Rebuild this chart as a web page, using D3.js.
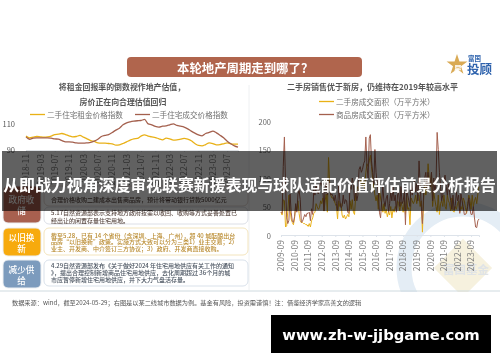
<!DOCTYPE html>
<html><head><meta charset="utf-8">
<script src="https://cdn.jsdelivr.net/npm/d3@7"></script>
<style>html,body{margin:0;padding:0;background:#fff}svg{display:block}text{font-family:"Noto Sans CJK SC","Noto Sans",sans-serif}</style>
</head><body><svg id="c" width="500" height="362"></svg>
<script>
const headline = "从即战力视角深度审视联赛新援表现与球队适配价值评估前景分析报告";
const pageTitle = "本轮地产周期走到哪了？";
const leftSubtitle = ["将租金回报率的倒数视作地产估值，","房价正在向合理估值回归"];
const rightSubtitle = "二手房销售优于新房，仍维持在2019年较高水平";
const leftSeriesNames = ["二手住宅租金价格指数","二手住宅成交价格指数"];
const rightSeriesNames = ["二手房成交面积（万平方米）","商品房成交面积（万平方米）"];
const leftYTicks = [90,110];
const rightYTicks = [0,50,100,150,200];
const rentIndex = [100.3,99,99.5,100,99.7,99.5,99.7,100.3,101.5,101.8,102.3,101.5,100.5,99.7,100,100.8,99.5,98.2,96.9,96.2,95.1,94.9,94.9,94.6,94.4,93.3,93.6,94.6,95.9,97.2,98.2,98.5,100.3,101.3,100.3,99.7,99.2,98.2,97.4,98.7,98.2,97.2,97.4,97.9,98.5,97.9,96.7,94.6,93.1,92.8,93.8,95.1,94.6,93.6,93.8,94.4,95.1,94.4,94.1,94.1];
const priceIndex = [99.7,97.9,98.7,99,99,99,99,98.7,98.2,97.9,96.9,95.9,95.9,95.6,95.1,94.9,94.9,95.1,95.4,96.4,97.9,100,100.8,101.5,103.1,104.9,106.4,109,110.5,111.3,111.8,112.1,112.3,113.1,109.7,109,107.7,107.2,107.9,108.2,109,109.7,108.5,107.9,107.2,105.9,104.1,102.6,101.3,100.5,102.3,103.1,104.1,102.8,101,99,96.4,94.4,92.8,91.8];
const secondHandArea = [40,35,62,60,14,16,42,70,45,28,22,18,
30,50,45,60,38,25,22,22,20,20,18,18,
15,20,14,25,30,38,40,55,50,45,48,60,
55,65,42,60,72,40,136,90,70,65,65,60,
55,50,28,60,50,55,35,30,35,28,32,36,
32,60,45,62,40,36,70,80,85,75,90,100,
85,95,80,110,125,120,130,140,120,100,85,70,
60,70,45,80,65,55,40,55,38,45,32,40,
35,50,30,45,40,50,45,60,55,42,58,50,
40,60,36,70,45,48,18,65,60,55,60,70,
55,70,70,50,60,5,60,90,70,85,125,100,
85,110,50,75,62,50,40,70,36,55,60,50,
70,50,45,70,60,55,42,65,42,40,50,45,
55,60,40,50,45,65,60,48,38,55,70,62,
45,70,50,60,66,55,72,85];
const newHomeArea = [40,38,120,172,90,30,20,26,72,40,24,22,
32,55,40,72,78,62,22,24,30,36,32,38,
38,40,25,46,36,80,70,88,75,72,85,92,
90,80,42,82,92,70,100,85,70,72,68,60,
70,55,42,90,60,48,50,70,55,62,60,40,
38,85,80,100,90,60,80,60,70,115,120,110,
115,125,130,172,120,100,170,176,130,110,90,150,
110,90,75,40,30,60,85,60,50,65,70,40,
55,75,60,85,60,70,40,70,75,50,85,55,
60,75,18,80,70,60,50,90,70,85,95,75,
90,60,130,90,50,20,70,100,110,80,110,90,
85,110,60,100,75,90,180,150,110,85,60,70,
95,105,85,70,90,75,60,45,70,44,52,75,
60,70,38,72,60,50,36,36,40,50,65,45,
36,36,50,30,14,13,25,28];
const policyLabels = [["政府收","储"],["以旧换","新"],["减少供","给"]];
const policyTop = ["合理价格收购二建成本出售商品房，预计将带动银行贷款5000亿元"];
const policyRecycle = ["5.17自然资源部表示支持地方政府按需以收回、收购等方式妥善处置已","经出让的闲置存量住宅用地。"];
const policyTradeIn = ["截至5.28，已有 14 个省份（含深圳、上海、广州），超 40 城酝酿出台","品房“以旧换新”政策。实施方式大致可以分为三类1）业主交易；2）","业主、开发商、中介签订三方协议；3）政府、开发商直接收购。"];
const policySupply = ["4.29自然资源部发布《关于做好2024 年住宅用地供应有关工作的通知","》，提出合理控制新增商品住宅用地供应，去化周期超过 36个月的城","市应暂停新增住宅用地供应，并下大力气盘活存量。"];
const sourceNote = "数据来源：wind，截至2024-05-29；右图是以某二线城市数据为例。基金有风险，投资需谨慎！注：借鉴经济学家高善文的逻辑";
const siteUrl = "www.zh-w-jjbgame.com";

const GOLD="#e9b118", BROWN="#a4604e", fmt=d3.timeFormat("%Y-%m");
const svg=d3.select("#c");
const defs=svg.append("defs");
defs.append("filter").attr("id","soft").attr("x","-5%").attr("y","-5%").attr("width","110%").attr("height","110%")
  .append("feGaussianBlur").attr("stdDeviation",0.38);
defs.append("clipPath").attr("id","wm").append("rect").attr("x",0).attr("y",0).attr("width",500).attr("height",292);
const page=svg.append("g").attr("filter","url(#soft)");
function txt(g,x,y,s,size,fill,weight,anchor){return g.append("text").attr("x",x).attr("y",y).attr("font-size",size).attr("fill",fill).attr("font-weight",weight||400).attr("text-anchor",anchor||"start").attr("dominant-baseline","central").text(s);}

// watermark
const wm=page.append("g").attr("clip-path","url(#wm)");
wm.append("circle").attr("cx",463).attr("cy",268).attr("r",59).attr("fill","none").attr("stroke","#e4edf5").attr("stroke-width",15);
wm.append("path").attr("d",d3.symbol(d3.symbolSquare,1700)()).attr("transform","translate(463,268) rotate(45)").attr("fill","#f6f1de");
txt(wm,443,269,"富国基金",11.5,"#dfe3e6",700);

// title
page.append("rect").attr("x",127).attr("y",57).attr("width",235).attr("height",20).attr("rx",4).attr("fill","#b0654e");
txt(page,177,67.5,pageTitle,12.4,"#fff",700);
// logo
page.append("path").attr("d",d3.symbol(d3.symbolStar,135)()).attr("transform","translate(457,65)").attr("fill","#d9aa55");
txt(page,458,68,"星",8,"#fff",700,"middle");
txt(page,468,57.5,"富国",6.5,"#2d62ad",700);
txt(page,467,68.5,"投顾",12.5,"#2d62ad",700);

page.append("line").attr("x1",249).attr("x2",249).attr("y1",85).attr("y2",290).attr("stroke","#eef0f2");

// subtitles and legends
leftSubtitle.forEach((s,i)=>txt(page,i?123:122,i?101:86.5,s,7.9,"#555",700,"middle"));
txt(page,372.5,86,rightSubtitle,8,"#555",700,"middle");
function legend(x0,y,color,label,tx){page.append("line").attr("x1",x0).attr("x2",x0+15).attr("y1",y).attr("y2",y).attr("stroke",color).attr("stroke-width",1.3);txt(page,tx,y,label,7.6,"#707070");}
legend(30,114.5,GOLD,leftSeriesNames[0],47);
legend(135,114.5,BROWN,leftSeriesNames[1],152);
legend(319,101.5,GOLD,rightSeriesNames[0],336);
legend(319,114.5,BROWN,rightSeriesNames[1],336);

// left chart
const lMonths=d3.timeMonth.range(new Date(2018,10,1),new Date(2023,10,1)).map(fmt);
const lx=d3.scalePoint().domain(lMonths).range([26,238]);
const ly=d3.scaleLinear().domain([90,110]).range([149.5,123.5]);
const lg=page.append("g");
lg.append("g").attr("transform","translate(0,150)").call(d3.axisBottom(lx).tickValues(lMonths.filter((d,i)=>i%4===0)).tickSize(2).tickPadding(2))
 .call(a=>{a.select(".domain").attr("stroke","#dcdfe3");a.selectAll("line").attr("stroke","#dcdfe3");a.selectAll("text").attr("transform","rotate(-90)").attr("text-anchor","end").attr("x",-4).attr("dx",0).attr("y",0).attr("dy","0.32em").attr("font-size",8.5).attr("fill","#808080").attr("font-family","Noto Sans");});
leftYTicks.forEach(v=>txt(lg,15,ly(v),String(v),7.5,"#555",400,"end"));
const lline=d3.line().x((d,i)=>lx(lMonths[i])).y(d=>ly(d)).curve(d3.curveMonotoneX);
lg.append("path").attr("d",lline(rentIndex)).attr("fill","none").attr("stroke",GOLD).attr("stroke-width",1.3);
lg.append("path").attr("d",lline(priceIndex)).attr("fill","none").attr("stroke",BROWN).attr("stroke-width",1.3);

// right chart
const rMonths=d3.timeMonth.range(new Date(2009,8,1),new Date(2024,4,1)).map(fmt);
const rx=d3.scalePoint().domain(rMonths).range([281,479]);
const ry=d3.scaleLinear().domain([0,200]).range([235,121]);
const rg=page.append("g");
rg.append("g").attr("transform","translate(0,235)").call(d3.axisBottom(rx).tickValues(rMonths.filter((d,i)=>i%12===0)).tickSize(2).tickPadding(2))
 .call(a=>{a.select(".domain").attr("stroke","#dde3ea");a.selectAll("line").attr("stroke","#dde3ea");a.selectAll("text").attr("transform","rotate(-90)").attr("text-anchor","end").attr("x",-5).attr("y",0).attr("dy","0.32em").attr("font-size",8.5).attr("fill","#808080").attr("font-family","Noto Sans");});
rightYTicks.forEach(v=>txt(rg,271,ry(v),String(v),7.5,"#666",400,"end"));
const rline=d3.line().x((d,i)=>rx(rMonths[i])).y(d=>ry(d));
rg.append("path").attr("d",rline(secondHandArea)).attr("fill","none").attr("stroke",GOLD).attr("stroke-width",1);
rg.append("path").attr("d",rline(newHomeArea)).attr("fill","none").attr("stroke",BROWN).attr("stroke-width",1);

// policy rows
function pill(y,h,color,lines){
  page.append("rect").attr("x",3).attr("y",y).attr("width",38).attr("height",h).attr("rx",5).attr("fill",color).attr("stroke","#eceff2");
  lines.forEach((l,i)=>txt(page,21.5,y+h/2+(i-0.5)*11,l,8.6,"#fff",500,"middle"));
}
function box(y,h,stroke,lines,color,y0,dy){
  page.append("rect").attr("x",44).attr("y",y).attr("width",204).attr("height",h).attr("rx",5).attr("fill","#fff").attr("stroke",stroke);
  lines.forEach((l,i)=>txt(page,51,y0+i*dy,l,6,color,500));
}
pill(186,37,"#a8604f",policyLabels[0]);
box(186,20,"#e3d8d3",policyTop,"#5a4a44",199,7);
box(207,17,"#dcdfe6",policyRecycle,"#5a4a44",212.5,7.6);
pill(228,28,"#f7aa0c",policyLabels[1]);
box(228,27,"#f3e4bd",policyTradeIn,"#b98a2e",235,6.9);
pill(260,28,"#7c9bbd",policyLabels[2]);
box(260,26,"#d9e1ea",policySupply,"#48525f",265.5,7.2);

page.append("line").attr("x1",0).attr("x2",500).attr("y1",291).attr("y2",291).attr("stroke","#cfdadf");
txt(page,12,302,sourceNote,6.2,"#555");

// overlays
svg.append("rect").attr("x",2).attr("y",151).attr("width",495).attr("height",60).attr("fill","#000").attr("fill-opacity",0.62);
txt(svg,249.5,184,headline,15.9,"#fff",700,"middle");
svg.append("rect").attr("x",271).attr("y",315).attr("width",220).attr("height",38).attr("fill","#000");
svg.append("text").attr("x",381).attr("y",334).attr("text-anchor","middle").attr("dominant-baseline","central").attr("font-size",14.8).attr("font-weight",700).attr("fill","#fff").style("font-family","'DejaVu Sans'").text(siteUrl);
</script></body></html>
